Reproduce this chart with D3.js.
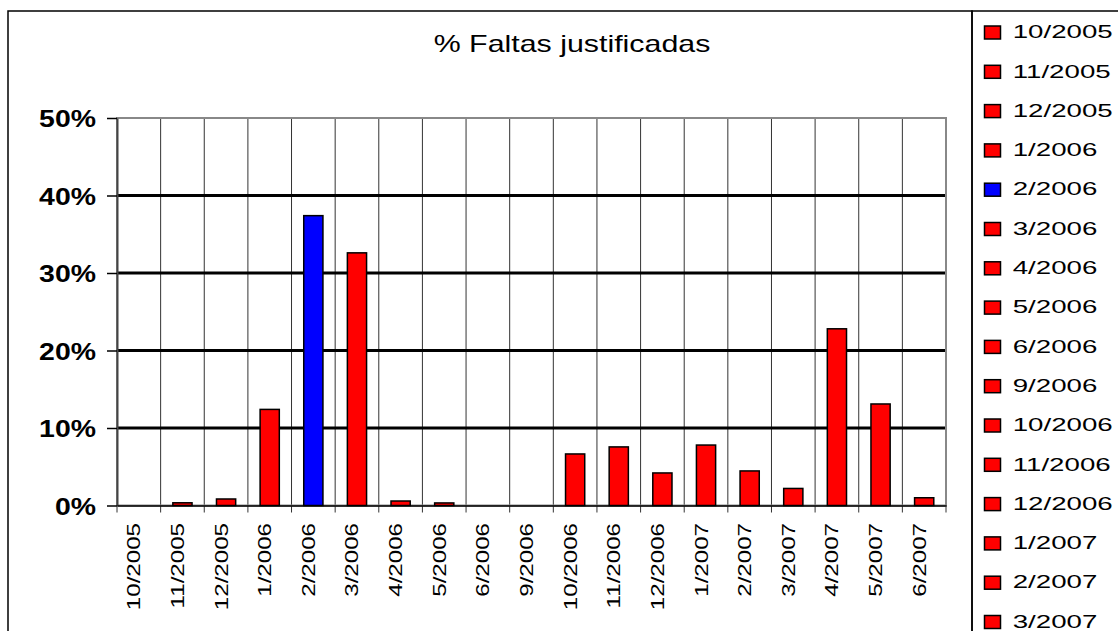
<!DOCTYPE html>
<html>
<head>
<meta charset="utf-8">
<script src="https://cdn.jsdelivr.net/npm/d3@7"></script>
<style>
  body { margin: 0; background: #fff; }
  text { font-family: "Liberation Sans", Arial, sans-serif; fill: #000; }
</style>
</head>
<body>
<svg id="chart" width="1118" height="631"></svg>
<script>
const width = 1118;
const height = 631;

const title = '% Faltas justificadas';
const months = ['10/2005', '11/2005', '12/2005', '1/2006', '2/2006', '3/2006', '4/2006', '5/2006', '6/2006', '9/2006',
  '10/2006', '11/2006', '12/2006', '1/2007', '2/2007', '3/2007', '4/2007', '5/2007', '6/2007'];
const justified = [0, 0.0035, 0.0084, 0.124, 0.374, 0.326, 0.0058, 0.0033, 0, 0,
  0.0665, 0.0756, 0.042, 0.078, 0.0446, 0.022, 0.228, 0.131, 0.010];
const barColors = ['#ff0000', '#ff0000', '#ff0000', '#ff0000', '#0000ff', '#ff0000', '#ff0000', '#ff0000', '#ff0000', '#ff0000',
  '#ff0000', '#ff0000', '#ff0000', '#ff0000', '#ff0000', '#ff0000', '#ff0000', '#ff0000', '#ff0000'];
const yTicks = [0, 0.1, 0.2, 0.3, 0.4, 0.5];

const plot = {left: 117, right: 946, top: 118, bottom: 505.5};

const svg = d3.select('#chart');
svg.append('rect').attr('width', width).attr('height', height).attr('fill', '#fff');

// outer chart frame and legend frame
svg.append('rect')
  .attr('x', 8).attr('y', 11).attr('width', 964).attr('height', 700)
  .attr('fill', 'none').attr('stroke', '#000').attr('stroke-width', 1.5);
svg.append('rect')
  .attr('x', 972).attr('y', 11).attr('width', 300).attr('height', 700)
  .attr('fill', 'none').attr('stroke', '#000').attr('stroke-width', 1.5);

svg.append('text')
  .attr('transform', `translate(572,51.5) scale(1.32,1)`)
  .attr('text-anchor', 'middle')
  .attr('font-size', 23)
  .text(title);

const x = d3.scaleBand().domain(months).range([plot.left, plot.right]).paddingInner(0).paddingOuter(0);
const y = d3.scaleLinear().domain([0, 0.5]).range([plot.bottom, plot.top]);

// vertical gridlines at category boundaries (also used as x ticks)
const bounds = months.map(m => x(m)).concat([x(months[months.length - 1]) + x.bandwidth()]);
svg.append('g').selectAll('line').data(bounds.slice(1, -1)).join('line')
  .attr('x1', d => d).attr('x2', d => d)
  .attr('y1', plot.top).attr('y2', plot.bottom + 7)
  .attr('stroke', '#333').attr('stroke-width', 1);

// horizontal gridlines
svg.append('g').selectAll('line').data(yTicks.filter(v => v > 0 && v < 0.5)).join('line')
  .attr('x1', plot.left).attr('x2', plot.right)
  .attr('y1', d => y(d)).attr('y2', d => y(d))
  .attr('stroke', '#000').attr('stroke-width', 3);

// plot area border
svg.append('rect')
  .attr('x', plot.left).attr('y', plot.top)
  .attr('width', plot.right - plot.left).attr('height', plot.bottom - plot.top)
  .attr('fill', 'none').attr('stroke', '#888').attr('stroke-width', 2);

// bars
const barW = x.bandwidth() * 0.44;
svg.append('g').selectAll('rect').data(months).join('rect')
  .attr('x', (d) => x(d) + (x.bandwidth() - barW) / 2)
  .attr('width', barW)
  .attr('y', (d, i) => y(justified[i]))
  .attr('height', (d, i) => plot.bottom - y(justified[i]))
  .attr('fill', (d, i) => barColors[i])
  .attr('stroke', '#000').attr('stroke-width', 1.5);

// y axis
const yAxis = svg.append('g')
  .attr('transform', `translate(${plot.left},0)`)
  .call(d3.axisLeft(y).tickValues(yTicks).tickFormat(d3.format('.0%')).tickSize(10).tickSizeOuter(0));
yAxis.select('.domain').attr('stroke', '#444').attr('stroke-width', 2);
yAxis.selectAll('.tick line').attr('stroke', '#000').attr('stroke-width', 1.5);
yAxis.selectAll('.tick text')
  .attr('x', null).attr('dy', null)
  .attr('transform', 'translate(-21,8.5) scale(1.21,1)')
  .attr('font-size', 23.5).attr('font-weight', 'bold')
  .attr('font-family', '"Liberation Sans", Arial, sans-serif')
  .attr('text-anchor', 'end');

// x axis
const xAxis = svg.append('g')
  .attr('transform', `translate(0,${plot.bottom})`)
  .call(d3.axisBottom(x).tickSize(0).tickSizeOuter(0));
xAxis.select('.domain').attr('stroke', '#000').attr('stroke-width', 1.5);
xAxis.selectAll('.tick text')
  .attr('y', null).attr('dy', null)
  .attr('transform', 'translate(1.5,17.5) rotate(-90) scale(1.27,1)')
  .attr('font-size', 19)
  .attr('font-family', '"Liberation Sans", Arial, sans-serif')
  .attr('text-anchor', 'end');
svg.append('g').selectAll('line').data([bounds[0], bounds[bounds.length - 1]]).join('line')
  .attr('x1', d => d).attr('x2', d => d)
  .attr('y1', plot.bottom).attr('y2', plot.bottom + 7)
  .attr('stroke', '#333').attr('stroke-width', 1);

// legend: only the entries that fit in the frame are shown
const legendTop = 31.5;
const legendStep = 39.3;
const shown = months.filter((d, i) => legendTop + i * legendStep - 8 < height);
const legend = svg.append('g').selectAll('g').data(shown).join('g')
  .attr('transform', (d, i) => `translate(984,${legendTop + i * legendStep})`);
legend.append('rect')
  .attr('x', 0.5).attr('y', -5.5).attr('width', 16).attr('height', 13)
  .attr('fill', (d, i) => barColors[i])
  .attr('stroke', '#000').attr('stroke-width', 1.5);
legend.append('text')
  .attr('transform', 'translate(28.7,6.7) scale(1.48,1)')
  .attr('font-size', 18.7)
  .text(d => d);
</script>
</body>
</html>
